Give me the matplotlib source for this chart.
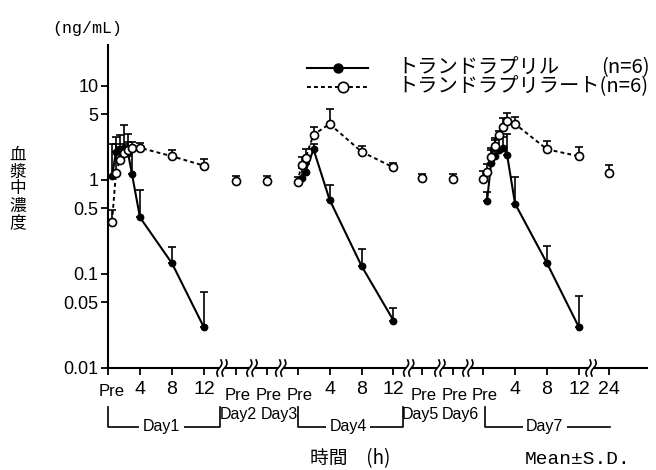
import matplotlib
matplotlib.use("Agg")
import matplotlib.pyplot as plt
import matplotlib.transforms as mtransforms
from matplotlib import font_manager
from matplotlib.lines import Line2D
from matplotlib.ticker import NullLocator
import numpy as np

# ---------------------------------------------------------------- data
# sampling times (h after dosing) and mean / SD plasma concentrations (ng/mL)
# trandolapril (filled circles)
tra_d1_t = [0.5, 1, 1.5, 2, 2.5, 3, 4, 8, 12]
tra_d1_mean = [1.1, 2.0, 2.15, 2.2, 1.95, 1.15, 0.40, 0.13, 0.027]
tra_d1_sd = [1.3, 0.9, 0.85, 1.6, 1.1, 1.15, 0.38, 0.065, 0.038]

tra_d4_t = [0.5, 1, 2, 4, 8, 12]
tra_d4_mean = [1.05, 1.23, 2.12, 0.62, 0.122, 0.032]
tra_d4_sd = [0.30, 0.25, 0.32, 0.27, 0.063, 0.012]

tra_d7_t = [0.5, 1, 1.5, 2, 2.5, 3, 4, 8, 12]
tra_d7_mean = [0.60, 1.5, 1.79, 2.09, 2.2, 1.86, 0.56, 0.13, 0.027]
tra_d7_sd = [0.15, 0.7, 0.86, 0.9, 0.7, 1.2, 0.52, 0.07, 0.031]

# trandolaprilat (open circles)
tat_d1_t = [0.5, 1, 1.5, 2, 2.5, 3, 4, 8, 12]
tat_d1_mean = [0.36, 1.2, 1.65, 1.93, 2.09, 2.17, 2.2, 1.79, 1.42]
tat_d1_sd = [0.12, 1.2, 0.6, 0.5, 0.45, 0.35, 0.28, 0.30, 0.24]

tat_d4_t = [0, 0.5, 1, 2, 4, 8, 12]
tat_d4_mean = [0.95, 1.45, 1.72, 3.03, 3.95, 2.0, 1.36]
tat_d4_sd = [0.13, 0.30, 0.40, 0.62, 1.75, 0.29, 0.17]

tat_d7_t = [0, 0.5, 1, 1.5, 2, 2.5, 3, 4, 8, 12]
tat_d7_mean = [1.02, 1.21, 1.75, 2.3, 3.03, 3.68, 4.2, 3.95, 2.12, 1.79]
tat_d7_sd = [0.24, 0.26, 0.35, 0.5, 0.30, 0.9, 1.0, 0.75, 0.48, 0.43]

# pre-dose trough values on days 2, 3, 5, 6 and the 24 h value after day 7
tat_trough_day = [2, 3, 5, 6]
tat_trough_mean = [0.97, 0.97, 1.04, 1.02]
tat_trough_sd = [0.12, 0.12, 0.13, 0.13]
tat_d7_late_t = [24]
tat_d7_late_mean = [1.19]
tat_d7_late_sd = [0.25]

y_ticks = [0.01, 0.05, 0.1, 0.5, 1, 5, 10]
y_ticklabels = ["0.01", "0.05", "0.1", "0.5", "1", "5", "10"]
hour_ticks = [4, 8, 12]

# ---------------------------------------------------------------- layout
W, H = 656, 470
# start of each day on the broken time axis (axis units ~ hours)
day_start = {1: 0.0, 2: 16.0, 3: 19.9, 4: 23.7, 5: 39.25, 6: 43.1, 7: 46.9}
break_pos = [14.25, 18.0, 21.6, 37.6, 41.5, 45.0, 60.4]


def pos(day, t):
    """Axis position of time t (h) on a given day; times past 12 h sit after a break."""
    t = np.asarray(t, dtype=float)
    t = np.where(t > 12, 12 + (t - 12) * 0.31, t)
    return day_start[day] + t


installed = {f.name for f in font_manager.fontManager.ttflist}
LATIN = "Liberation Sans Narrow" if "Liberation Sans Narrow" in installed else "Liberation Sans"
MONO = "Liberation Mono"
JP = ["Noto Sans CJK JP", "DejaVu Sans"]
plt.rcParams["font.family"] = [LATIN, "DejaVu Sans"]

fig = plt.figure(figsize=(W / 100, H / 100), dpi=100)
ax = fig.add_axes([108 / W, 1 - 368 / H, (647 - 108) / W, (368 - 45) / H])
ax.set_yscale("log")
ax.set_ylim(0.01, 27.3)
ax.set_xlim(0, 67.4)

for s in ("top", "right"):
    ax.spines[s].set_visible(False)
for s in ("left", "bottom"):
    ax.spines[s].set_linewidth(1.5)

ax.set_yticks(y_ticks)
ax.set_yticklabels(y_ticklabels)
ax.yaxis.set_minor_locator(NullLocator())
ax.tick_params(axis="y", length=5, width=1.3, pad=2, labelsize=13)

tick_x = [0, 4, 8, 12, pos(2, 0), pos(3, 0), pos(4, 0), pos(4, 4), pos(4, 8), pos(4, 12),
          pos(5, 0), pos(6, 0), pos(7, 0), pos(7, 4), pos(7, 8), pos(7, 12), pos(7, 24)]
ax.set_xticks([float(v) for v in tick_x])
ax.tick_params(axis="x", length=5, width=1.3, labelbottom=False)

# ---------------------------------------------------------------- series
FILLED = dict(color="k", lw=1.5, marker="o", ms=4.6, mfc="k", mec="k", zorder=4)
OPEN = dict(color="k", lw=1.4, ls=(0, (2.0, 1.6)), marker="o", ms=5.8, mfc="white",
            mec="k", mew=1.2, zorder=5)
EB = dict(fmt="none", ecolor="k", elinewidth=1.2, capsize=2.6, capthick=1.2, zorder=3)


def series(day, t, mean, sd, style):
    x = pos(day, t)
    ax.errorbar(x, mean, yerr=[np.zeros(len(sd)), sd], **EB)
    ax.plot(x, mean, **style)


series(1, tra_d1_t, tra_d1_mean, tra_d1_sd, FILLED)
series(4, tra_d4_t, tra_d4_mean, tra_d4_sd, FILLED)
series(7, tra_d7_t, tra_d7_mean, tra_d7_sd, FILLED)
series(1, tat_d1_t, tat_d1_mean, tat_d1_sd, OPEN)
series(4, tat_d4_t, tat_d4_mean, tat_d4_sd, OPEN)
series(7, tat_d7_t, tat_d7_mean, tat_d7_sd, OPEN)

single = dict(OPEN, ls="none")
for d, m, s in zip(tat_trough_day, tat_trough_mean, tat_trough_sd):
    series(d, [0], [m], [s], single)
series(7, tat_d7_late_t, tat_d7_late_mean, tat_d7_late_sd, single)

# ---------------------------------------------------------------- axis breaks
fig.canvas.draw()
for xb in break_pos:
    px, py = ax.transData.transform((xb, 0.01))
    s = np.linspace(-1, 1, 40)
    curves = []
    for dx in (-2.6, 2.6):
        cx = px + dx + 1.6 * s + 1.6 * np.sin(np.pi * s)
        cy = py + 8.0 * s
        curves.append((cx, cy))
    poly_x = np.concatenate([curves[0][0], curves[1][0][::-1]])
    poly_y = np.concatenate([curves[0][1], curves[1][1][::-1]])
    fig.patches.append(plt.Polygon(np.column_stack([poly_x, poly_y]), closed=True,
                                   facecolor="white", edgecolor="none",
                                   transform=mtransforms.IdentityTransform(), zorder=6))
    for cx, cy in curves:
        fig.add_artist(Line2D(cx, cy, color="k", lw=1.2,
                              transform=mtransforms.IdentityTransform(), zorder=7))

# ---------------------------------------------------------------- x labels
xt = mtransforms.blended_transform_factory(ax.transData, fig.transFigure)


def fy(py):
    return 1 - py / H


ax.text(0.4, fy(391), "Pre", transform=xt, ha="center", va="center", fontsize=12)
for d in (1, 4, 7):
    for h in hour_ticks:
        ax.text(float(pos(d, h)), fy(390), str(h), transform=xt, ha="center",
                va="center", fontsize=14)
ax.text(float(pos(7, 24)), fy(390), "24", transform=xt, ha="center", va="center", fontsize=14)
for d in (2, 3, 4, 5, 6, 7):
    ax.text(float(pos(d, 0)) + 0.2, fy(396), "Pre", transform=xt, ha="center",
            va="center", fontsize=12)

# day brackets
BR = dict(color="k", lw=1.2, transform=xt, clip_on=False)
y_top, y_bot = fy(407), fy(427)
brackets = [(1, 0.0, 14.0, True), (4, 23.75, 36.9, True), (7, 47.1, 62.75, False)]
for d, x0, x1, right_end in brackets:
    xs = [x0, x0, x1, x1] if right_end else [x0, x0, x1]
    ys = [y_top, y_bot, y_bot, y_top] if right_end else [y_top, y_bot, y_bot]
    ax.add_line(Line2D(xs, ys, **BR))
    ax.text((x0 + x1) / 2 - 0.3, y_bot, f"Day{d}", transform=xt, ha="center", va="center",
            fontsize=11.5, bbox=dict(facecolor="white", edgecolor="none", pad=2.5))
for d, xc in ((2, 16.3), (3, 21.4), (5, 39.1), (6, 44.1)):
    ax.text(xc, fy(414), f"Day{d}", transform=xt, ha="center", va="center", fontsize=11.5)

# ---------------------------------------------------------------- titles
fig.text(52 / W, fy(29), "(ng/mL)", family=MONO, fontsize=12, ha="left", va="center")
fig.text(18 / W, fy(189), "\n".join("血漿中濃度"), family=JP, fontsize=12,
         ha="center", va="center", linespacing=1.0)
fig.text(310 / W, fy(459), "時間\u3000(h)", family=JP, fontsize=13.5, ha="left", va="center")
fig.text(578 / W, fy(460), "Mean±S.D.", family=MONO, fontsize=14, ha="center", va="center")

# ---------------------------------------------------------------- legend
FT = fig.transFigure
fig.add_artist(Line2D([307 / W, 368 / W], [fy(68)] * 2, color="k", lw=1.5, transform=FT))
fig.add_artist(Line2D([338 / W], [fy(68)], ls="none", marker="o", ms=6.5, mfc="k", mec="k",
                      transform=FT))
fig.add_artist(Line2D([307 / W, 368 / W], [fy(87)] * 2, color="k", lw=1.4,
                      ls=(0, (2.0, 1.6)), transform=FT))
fig.add_artist(Line2D([343 / W], [fy(87)], ls="none", marker="o", ms=7.5, mfc="white",
                      mec="k", mew=1.2, transform=FT))
fig.text(397 / W, fy(68), "トランドラプリル", family=JP, fontsize=14.6, ha="left", va="center")
fig.text(650 / W, fy(68), "(n=6)", family=JP, fontsize=14.6, ha="right", va="center")
fig.text(397 / W, fy(87), "トランドラプリラート(n=6)", family=JP, fontsize=14.6,
         ha="left", va="center")

fig.savefig("out.png", dpi=100, facecolor="white")
